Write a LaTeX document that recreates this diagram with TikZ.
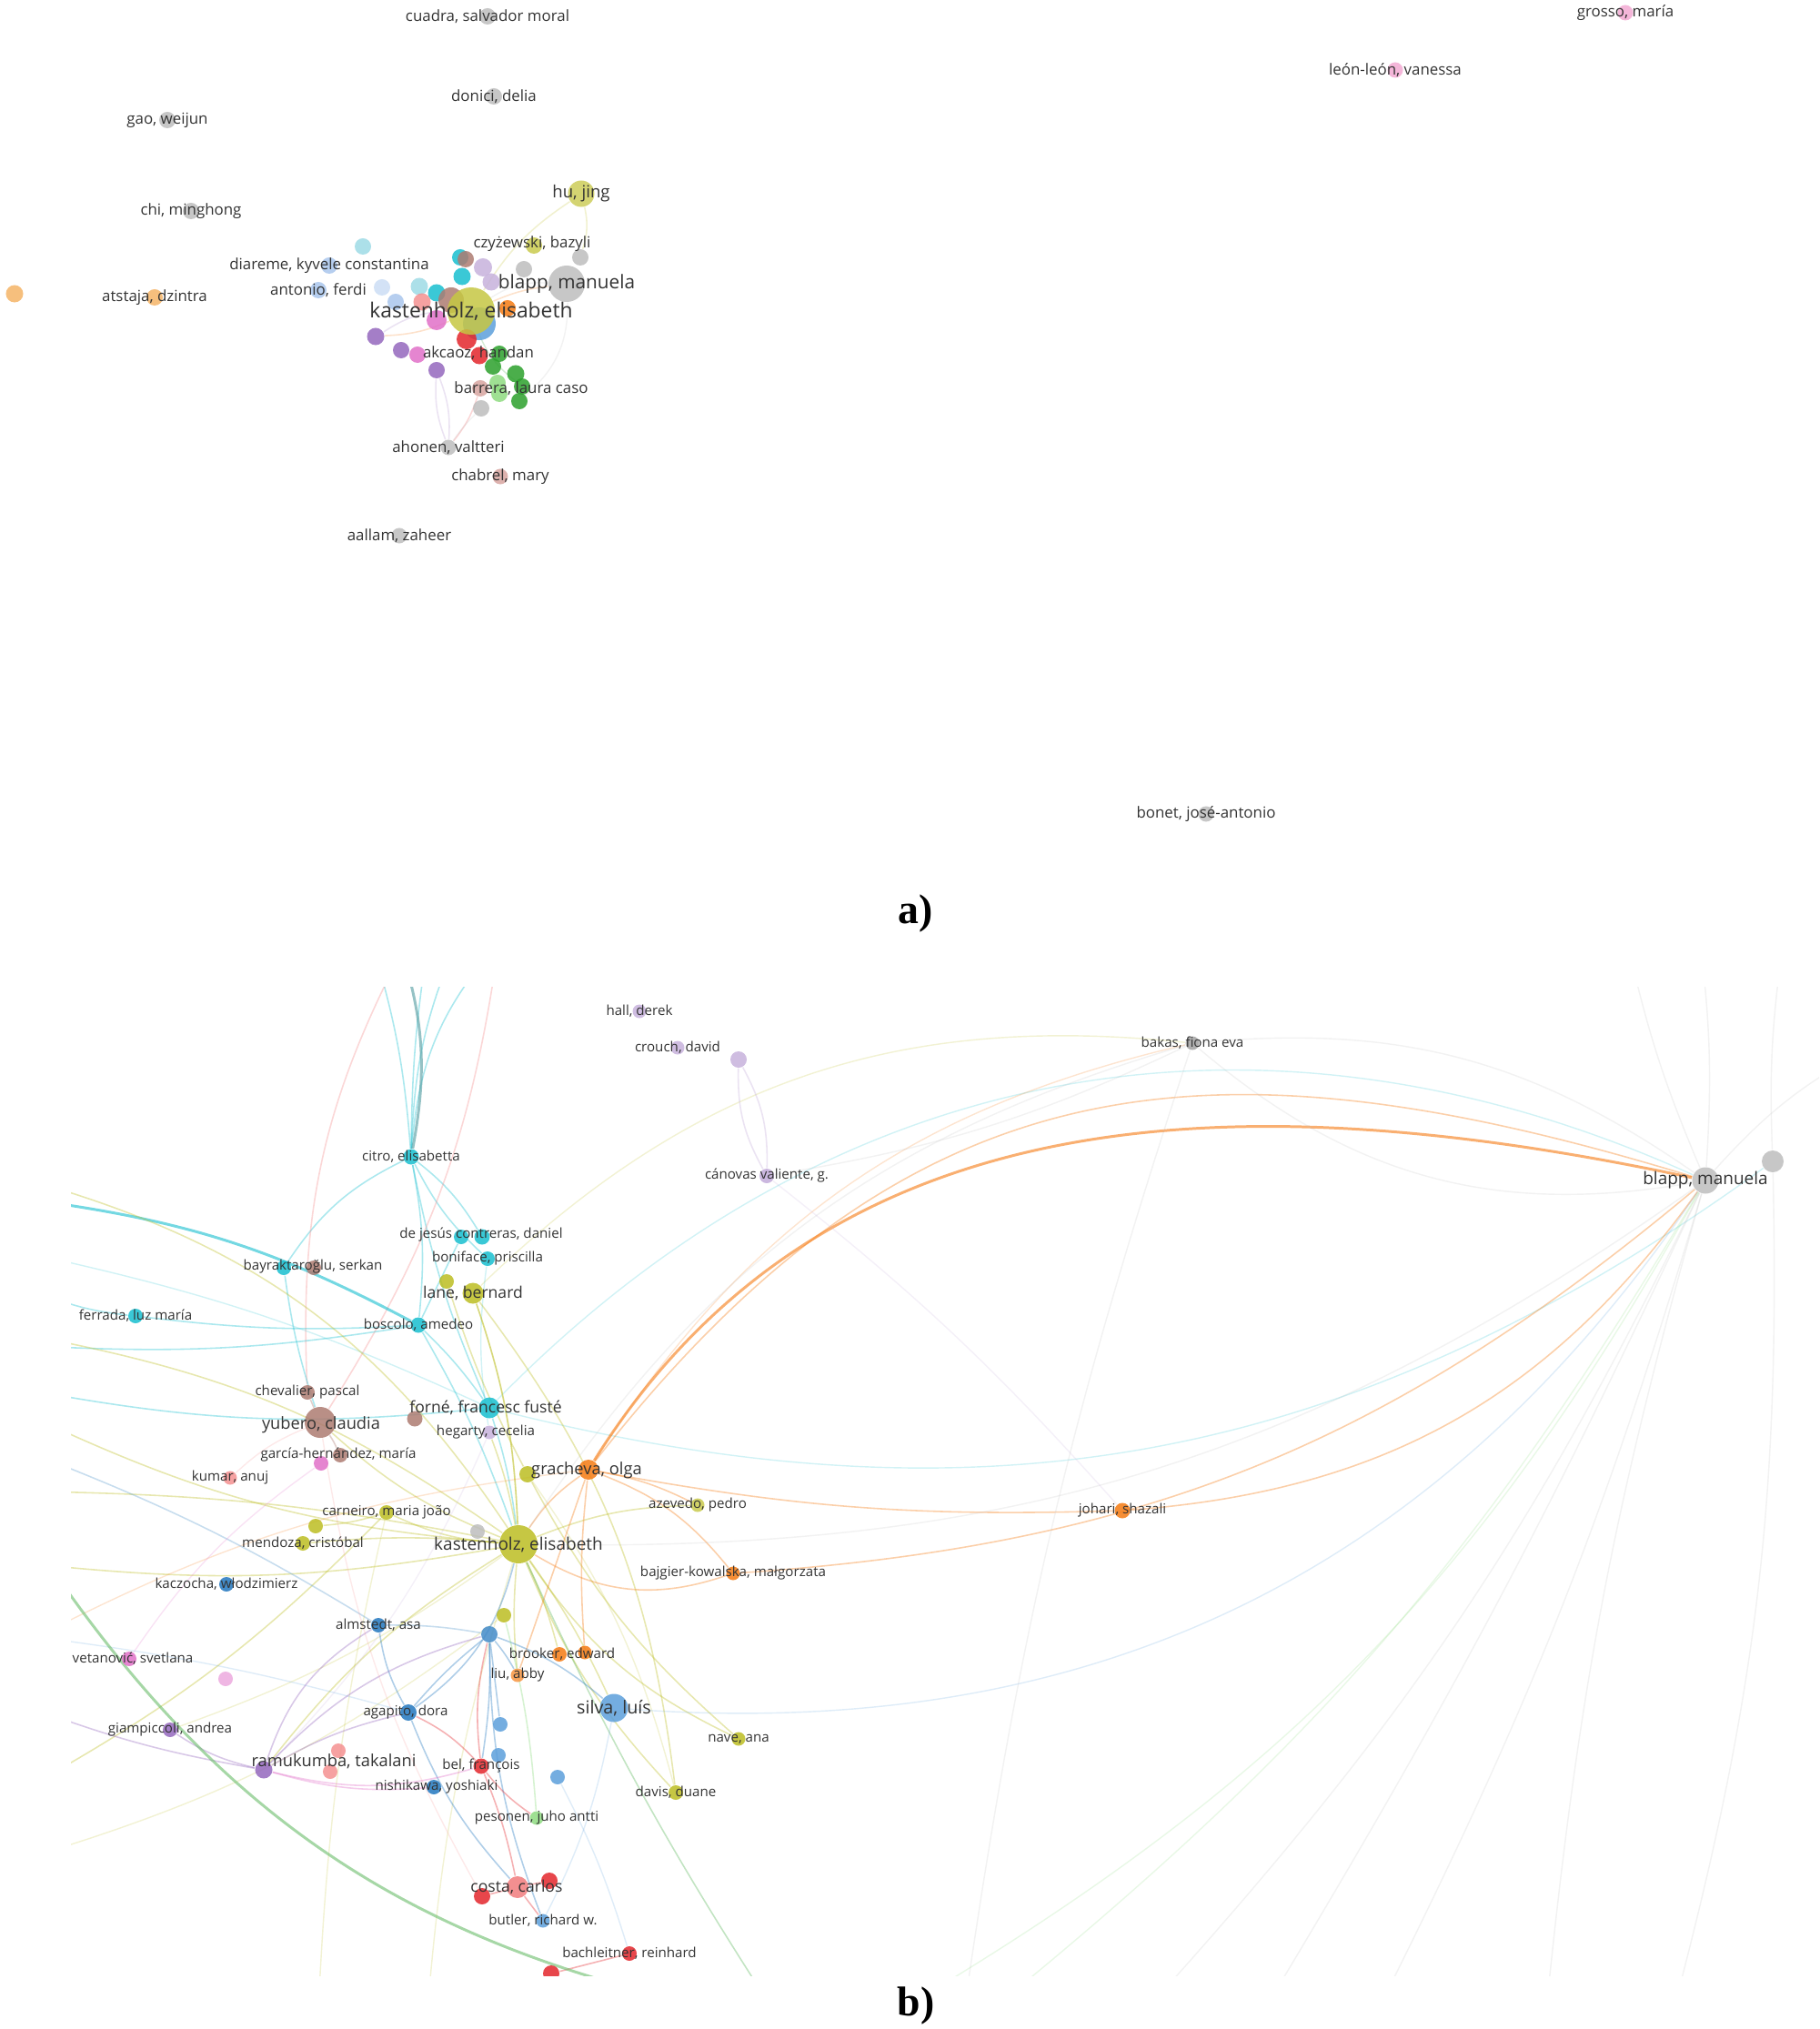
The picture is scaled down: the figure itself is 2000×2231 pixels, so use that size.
\documentclass[tikz,border=0pt]{standalone}
\usepackage{fontspec}
\setmainfont{Open Sans}
\newfontfamily\capfont{Liberation Serif}
\usepackage{tikz}
\usetikzlibrary{positioning,backgrounds}
\definecolor{grayCol}{HTML}{BDBDBD}
\definecolor{redCol}{HTML}{E3262B}
\definecolor{greenCol}{HTML}{2CA02C}
\definecolor{blueCol}{HTML}{2277BE}
\definecolor{ltBlueCol}{HTML}{5C9FDB}
\definecolor{oliveCol}{HTML}{BCBD22}
\definecolor{purpleCol}{HTML}{9467BD}
\definecolor{cyanCol}{HTML}{17BECF}
\definecolor{tealCol}{HTML}{4F9A9F}
\definecolor{orangeCol}{HTML}{F57A12}
\definecolor{brownCol}{HTML}{AD7B71}
\definecolor{pinkCol}{HTML}{E070C8}
\definecolor{paleBlueCol}{HTML}{A9C6EC}
\definecolor{paleGreenCol}{HTML}{8EDB80}
\definecolor{salmonCol}{HTML}{F49090}
\definecolor{lavCol}{HTML}{C7B2DC}
\definecolor{paleCyanCol}{HTML}{9EDAE5}
\definecolor{paleOrangeCol}{HTML}{F5B466}
\definecolor{palePinkCol}{HTML}{F2A9D2}
\definecolor{roseCol}{HTML}{D7A4A0}
\definecolor{txtCol}{HTML}{333333}
\tikzset{
  au/.style n args={2}{circle, fill=#1, fill opacity=0.85, draw=none, inner sep=0pt,
        minimum size=#2},
  nm/.style={font=\fontsize{#1}{#1}\selectfont, text=txtCol, inner sep=0pt},
  lk/.style={draw=#1, line width=0.45pt, draw opacity=0.36},
  lkf/.style={draw=#1, line width=0.4pt, draw opacity=0.2},
  lkb/.style={draw=#1, line width=0.85pt, draw opacity=0.6},
  captxt/.style={font=\capfont\bfseries\fontsize{13}{13}\selectfont, inner sep=0pt},
}
\begin{document}
\begin{tikzpicture}[x=0.01cm, y=-0.01cm]
  \useasboundingbox (0,0) rectangle (2000,2231);
  % ---------------- a) ----------------
  \node[au={grayCol}{1.8mm}] (cuadra) at (536,18) {};
  \node[au={grayCol}{1.8mm}] (donici) at (543,106) {};
  \node[au={grayCol}{1.8mm}] (gao) at (184,132) {};
  \node[au={grayCol}{1.8mm}] (chi) at (210,232) {};
  \node[au={oliveCol!75}{2.9mm}] (hujing) at (639,213) {};
  \node[au={oliveCol!80}{1.8mm}] (czy) at (587,270) {};
  \node[au={grayCol}{1.8mm}] (grayC) at (638,283) {};
  \node[au={paleCyanCol}{1.8mm}] (pcyA) at (399,271) {};
  \node[au={paleBlueCol}{1.8mm}] (diareme) at (362,292) {};
  \node[au={paleBlueCol}{1.8mm}] (antonio) at (350,319) {};
  \node[au={paleBlueCol!60}{1.8mm}] (pblA) at (420,316) {};
  \node[au={paleBlueCol}{1.8mm}] (pblB) at (435,332) {};
  \node[au={paleCyanCol}{1.9mm}] (pcyB) at (461,315) {};
  \node[au={paleOrangeCol}{1.9mm}] (orangeL) at (16,323) {};
  \node[au={paleOrangeCol}{1.8mm}] (atstaja) at (170,327) {};
  \node[au={grayCol}{1.8mm}] (grayD) at (576,296) {};
  \node[au={grayCol}{4.0mm}] (blappA) at (623,312) {};
  \node[au={cyanCol}{1.8mm}] (cyA) at (506,283) {};
  \node[au={lavCol}{2.0mm}] (lavA) at (531,294) {};
  \node[au={lavCol}{1.9mm}] (lavB) at (540,310) {};
  \node[au={brownCol}{1.8mm}] (brA) at (512,285) {};
  \node[au={cyanCol}{1.9mm}] (cyB) at (508,304) {};
  \node[au={cyanCol}{1.9mm}] (cyC) at (480,322) {};
  \node[au={salmonCol}{1.9mm}] (salA) at (464,332) {};
  \node[au={orangeCol}{1.8mm}] (orA) at (558,339) {};
  \node[au={brownCol}{2.8mm}] (brBig) at (496,330) {};
  \node[au={pinkCol}{2.2mm}] (pkA) at (480,352) {};
  \node[au={ltBlueCol}{3.6mm}] (blBig) at (527,356) {};
  \node[au={redCol}{2.2mm}] (rdA) at (513,373) {};
  \node[au={oliveCol!85}{5.2mm}] (kastA) at (518,342) {};
  \node[au={purpleCol}{1.9mm}] (puA) at (413,370) {};
  \node[au={purpleCol}{1.8mm}] (puB) at (441,385) {};
  \node[au={pinkCol}{1.8mm}] (pkB) at (459,390) {};
  \node[au={redCol}{1.9mm}] (rdB) at (527,391) {};
  \node[au={greenCol}{1.8mm}] (gnA) at (549,389) {};
  \node[au={greenCol}{1.8mm}] (gnB) at (542,403) {};
  \node[au={greenCol}{1.9mm}] (gnC) at (567,411) {};
  \node[au={paleGreenCol}{1.8mm}] (pgA) at (547,421) {};
  \node[au={greenCol}{1.8mm}] (gnD) at (574,425) {};
  \node[au={paleGreenCol}{1.8mm}] (pgB) at (549,433) {};
  \node[au={greenCol}{1.8mm}] (gnE) at (571,441) {};
  \node[au={purpleCol}{1.8mm}] (puC) at (480,407) {};
  \node[au={roseCol}{1.8mm}] (rose) at (528,427) {};
  \node[au={grayCol}{1.8mm}] (grayE) at (529,449) {};
  \node[au={grayCol}{1.7mm}] (ahonen) at (493,492) {};
  \node[au={roseCol}{1.7mm}] (chabrel) at (550,524) {};
  \node[au={grayCol}{1.7mm}] (aallam) at (439,589) {};
  \node[au={palePinkCol}{1.7mm}] (grosso) at (1787,14) {};
  \node[au={palePinkCol}{1.7mm}] (leon) at (1534,77) {};
  \node[au={grayCol}{1.7mm}] (bonet) at (1326,895) {};
  % labels
  \node[nm=4.8] (cuadraT) at (cuadra) {cuadra, salvador moral};
  \node[nm=4.8] (doniciT) at (donici) {donici, delia};
  \node[nm=4.8] (gaoT) at (gao) {gao, weijun};
  \node[nm=4.8] (chiT) at (chi) {chi, minghong};
  \node[nm=5.3] (hujingT) at (hujing) {hu, jing};
  \node[nm=4.8] (czyT) at (585,268) {czyżewski, bazyli};
  \node[nm=4.8] (diaremeT) at (diareme) {diareme, kyvele constantina};
  \node[nm=4.8] (antonioT) at (antonio) {antonio, ferdi};
  \node[nm=4.8] (atstajaT) at (atstaja) {atstaja, dzintra};
  \node[nm=5.9] (blappAT) at (blappA) {blapp, manuela};
  \node[nm=6.5] (kastAT) at (kastA) {kastenholz, elisabeth};
  \node[nm=4.8] (akcaozT) at (526,388) {akcaoz, handan};
  \node[nm=4.8] (barreraT) at (573,427) {barrera, laura caso};
  \node[nm=4.8] (ahonenT) at (ahonen) {ahonen, valtteri};
  \node[nm=4.8] (chabrelT) at (chabrel) {chabrel, mary};
  \node[nm=4.8] (aallamT) at (aallam) {aallam, zaheer};
  \node[nm=4.8] (grossoT) at (grosso) {grosso, maría};
  \node[nm=4.8] (leonT) at (leon) {león-león, vanessa};
  \node[nm=4.8] (bonetT) at (bonet) {bonet, josé-antonio};
  \node[captxt] (capA) at (1007,1004) {a)};
  % links a)
  \begin{scope}[on background layer]
    \draw[lk=oliveCol!60] (hujing) to[bend right=12] (kastA);
    \draw[lk=oliveCol!60] (hujing) to[bend left=15] (grayC);
    \draw[lk=lavCol] (puC) to[bend right=12] (ahonen);
    \draw[lk=lavCol] (puC) to[bend left=12] (ahonen);
    \draw[lk=salmonCol] (ahonen) to[bend right=10] (rose);
    \draw[lkf=grayCol] (ahonen) to[bend left=5] (grayE);
    \draw[lk=orangeCol!60] (puA) to[bend right=10] (kastA);
    \draw[lk=lavCol] (puA) to[bend left=15] (kastA);
    \draw[lk=orangeCol!60] (kastA) to[bend left=8] (blappA);
    \draw[lkf=grayCol] (kastA) to[bend left=18] (blappA);
    \draw[lkf=greenCol] (kastA) to[bend right=15] (gnD);
    \draw[lkf=grayCol] (blappA) to[bend left=25] (gnE);
    \draw[lkf=paleBlueCol] (kastA) to[bend right=8] (orA);
  \end{scope}
  % ---------------- b) ----------------
  \begin{scope}
    \clip (78,1085) rectangle (2000,2172);
    \node[au={lavCol}{1.5mm}] (hall) at (703,1112) {};
    \node[au={lavCol}{1.5mm}] (crouch) at (745,1152) {};
    \node[au={lavCol}{1.8mm}] (lavC) at (812,1165) {};
    \node[au={lavCol!90!purpleCol}{1.6mm}] (canovas) at (843,1293) {};
    \node[au={grayCol!85!black}{1.5mm}] (bakas) at (1311,1147) {};
    \node[au={grayCol}{2.9mm}] (blappB) at (1875,1298) {};
    \node[au={grayCol}{2.4mm}] (grayR) at (1949,1277) {};
    \node[au={orangeCol}{1.7mm}] (johari) at (1234,1661) {};
    \node[au={cyanCol}{1.7mm}] (citro) at (452,1272) {};
    \node[au={cyanCol}{1.6mm}] (dejA) at (507,1360) {};
    \node[au={cyanCol}{1.7mm}] (dejB) at (530,1360) {};
    \node[au={cyanCol}{1.6mm}] (boniface) at (536,1384) {};
    \node[au={cyanCol}{1.6mm}] (bayrC) at (312,1394) {};
    \node[au={brownCol}{1.6mm}] (bayrB) at (345,1394) {};
    \node[au={oliveCol}{1.6mm}] (laneY) at (491,1409) {};
    \node[au={oliveCol}{2.3mm}] (lane) at (520,1422) {};
    \node[au={cyanCol}{1.6mm}] (ferrada) at (149,1447) {};
    \node[au={cyanCol}{1.7mm}] (boscolo) at (460,1457) {};
    \node[au={brownCol}{1.6mm}] (chevalier) at (338,1531) {};
    \node[au={brownCol}{3.4mm}] (yubero) at (352,1564) {};
    \node[au={brownCol}{1.7mm}] (brownF) at (456,1560) {};
    \node[au={cyanCol}{2.3mm}] (forne) at (538,1548) {};
    \node[au={lavCol}{1.5mm}] (hegarty) at (538,1575) {};
    \node[au={pinkCol}{1.6mm}] (garciaP) at (353,1609) {};
    \node[au={brownCol}{1.6mm}] (garciaB) at (374,1600) {};
    \node[au={salmonCol}{1.5mm}] (kumar) at (253,1625) {};
    \node[au={oliveCol}{1.8mm}] (grachY) at (580,1621) {};
    \node[au={orangeCol}{2.2mm}] (gracheva) at (647,1616) {};
    \node[au={oliveCol!80}{1.5mm}] (azevedo) at (767,1655) {};
    \node[au={oliveCol}{1.6mm}] (carneiro) at (425,1663) {};
    \node[au={oliveCol}{1.6mm}] (mendY) at (347,1678) {};
    \node[au={oliveCol}{1.6mm}] (mendoza) at (333,1697) {};
    \node[au={grayCol}{1.6mm}] (grayK) at (525,1684) {};
    \node[au={oliveCol}{4.2mm}] (kb) at (570,1698) {};
    \node[au={orangeCol}{1.5mm}] (bajgier) at (806,1730) {};
    \node[au={blueCol}{1.6mm}] (kaczocha) at (249,1742) {};
    \node[au={blueCol}{1.6mm}] (almstedt) at (416,1787) {};
    \node[au={oliveCol}{1.6mm}] (hubY) at (554,1776) {};
    \node[au={blueCol!85!white}{1.8mm}] (hubB) at (538,1797) {};
    \node[au={orangeCol}{1.6mm}] (brookerA) at (615,1819) {};
    \node[au={orangeCol}{1.5mm}] (brookerB) at (643,1817) {};
    \node[au={orangeCol!80}{1.5mm}] (liu) at (569,1842) {};
    \node[au={pinkCol}{1.6mm}] (vetanovic) at (142,1824) {};
    \node[au={pinkCol!60}{1.6mm}] (pinkP) at (248,1846) {};
    \node[au={ltBlueCol}{3.1mm}] (silva) at (675,1878) {};
    \node[au={ltBlueCol}{1.6mm}] (blueS1) at (550,1896) {};
    \node[au={blueCol}{1.8mm}] (agapito) at (449,1883) {};
    \node[au={purpleCol}{1.6mm}] (giampiccoli) at (187,1902) {};
    \node[au={oliveCol}{1.5mm}] (nave) at (812,1912) {};
    \node[au={purpleCol}{1.9mm}] (ramukumba) at (290,1946) {};
    \node[au={salmonCol}{1.6mm}] (salC) at (372,1925) {};
    \node[au={salmonCol}{1.6mm}] (salD) at (363,1948) {};
    \node[au={ltBlueCol}{1.6mm}] (blueS2) at (548,1930) {};
    \node[au={redCol}{1.7mm}] (bel) at (529,1942) {};
    \node[au={ltBlueCol}{1.6mm}] (blueS3) at (613,1954) {};
    \node[au={blueCol}{1.6mm}] (nishikawa) at (477,1965) {};
    \node[au={oliveCol}{1.6mm}] (davis) at (743,1971) {};
    \node[au={paleGreenCol}{1.5mm}] (pesonen) at (590,1999) {};
    \node[au={salmonCol!80!redCol}{2.4mm}] (costa) at (569,2075) {};
    \node[au={redCol}{1.8mm}] (costaR) at (604,2068) {};
    \node[au={redCol}{1.8mm}] (costaL) at (530,2085) {};
    \node[au={ltBlueCol}{1.5mm}] (butler) at (597,2112) {};
    \node[au={redCol}{1.6mm}] (bachleitner) at (692,2148) {};
    \node[au={redCol}{1.8mm}] (redBot) at (606,2170) {};
    % labels
    \node[nm=4.3] (hallT) at (hall) {hall, derek};
    \node[nm=4.3] (crouchT) at (crouch) {crouch, david};
    \node[nm=4.3] (canovasT) at (canovas) {cánovas valiente, g.};
    \node[nm=4.3] (bakasT) at (bakas) {bakas, fiona eva};
    \node[nm=5.4] (blappBT) at (blappB) {blapp, manuela};
    \node[nm=4.3] (johariT) at (johari) {johari, shazali};
    \node[nm=4.3] (citroT) at (citro) {citro, elisabetta};
    \node[nm=4.3] (dejT) at (529,1358) {de jesús contreras, daniel};
    \node[nm=4.3] (bonifaceT) at (boniface) {boniface, priscilla};
    \node[nm=4.3] (bayrT) at (344,1393) {bayraktaroğlu, serkan};
    \node[nm=5.0] (laneT) at (lane) {lane, bernard};
    \node[nm=4.3] (ferradaT) at (ferrada) {ferrada, luz maría};
    \node[nm=4.3] (boscoloT) at (boscolo) {boscolo, amedeo};
    \node[nm=4.3] (chevalierT) at (chevalier) {chevalier, pascal};
    \node[nm=5.2] (yuberoT) at (353,1567) {yubero, claudia};
    \node[nm=5.0] (forneT) at (534,1548) {forné, francesc fusté};
    \node[nm=4.3] (hegartyT) at (534,1575) {hegarty, cecelia};
    \node[nm=4.3] (garciaT) at (372,1600) {garcía-hernández, maría};
    \node[nm=4.3] (kumarT) at (kumar) {kumar, anuj};
    \node[nm=5.2] (grachevaT) at (645,1617) {gracheva, olga};
    \node[nm=4.3] (azevedoT) at (azevedo) {azevedo, pedro};
    \node[nm=4.3] (carneiroT) at (carneiro) {carneiro, maria joão};
    \node[nm=4.3] (mendozaT) at (mendoza) {mendoza, cristóbal};
    \node[nm=5.4] (kbT) at (kb) {kastenholz, elisabeth};
    \node[nm=4.3] (bajgierT) at (bajgier) {bajgier-kowalska, małgorzata};
    \node[nm=4.3] (kaczochaT) at (kaczocha) {kaczocha, włodzimierz};
    \node[nm=4.3] (almstedtT) at (almstedt) {almstedt, asa};
    \node[nm=4.3] (brookerT) at (618,1819) {brooker, edward};
    \node[nm=4.3] (liuT) at (liu) {liu, abby};
    \node[nm=4.3, anchor=west] (vetanovicT) at (79,1824) {vetanović, svetlana};
    \node[nm=5.6] (silvaT) at (silva) {silva, luís};
    \node[nm=4.3] (agapitoT) at (446,1883) {agapito, dora};
    \node[nm=4.3] (giampiccoliT) at (giampiccoli) {giampiccoli, andrea};
    \node[nm=4.3] (naveT) at (nave) {nave, ana};
    \node[nm=5.2] (ramukumbaT) at (367,1937) {ramukumba, takalani};
    \node[nm=4.3] (belT) at (bel) {bel, françois};
    \node[nm=4.3] (nishikawaT) at (480,1965) {nishikawa, yoshiaki};
    \node[nm=4.3] (davisT) at (davis) {davis, duane};
    \node[nm=4.3] (pesonenT) at (pesonen) {pesonen, juho antti};
    \node[nm=5.0] (costaT) at (568,2075) {costa, carlos};
    \node[nm=4.3] (butlerT) at (butler) {butler, richard w.};
    \node[nm=4.3] (bachleitnerT) at (bachleitner) {bachleitner, reinhard};
  \end{scope}
  \node[captxt] (capB) at (1007,2205) {b)};
  % off-panel ends of links
  \coordinate (tA) at (410,1040);  \coordinate (tB) at (470,1040);
  \coordinate (tC) at (500,1040);  \coordinate (tD) at (545,1040);
  \coordinate (tE) at (440,1040);  \coordinate (tF) at (445,1040);
  \coordinate (tG) at (548,1040);  \coordinate (tH) at (1870,1040);
  \coordinate (tI) at (1960,1040); \coordinate (tJ) at (1790,1040);
  \coordinate (rA) at (2060,1150);
  \coordinate (lC) at (40,1320);   \coordinate (lD) at (40,1300);
  \coordinate (lE) at (40,1480);   \coordinate (lF) at (40,1420);
  \coordinate (lG) at (40,1560);   \coordinate (lH) at (40,1640);
  \coordinate (lI) at (40,1720);   \coordinate (lJ) at (40,1470);
  \coordinate (lK) at (40,1600);   \coordinate (lL) at (40,1880);
  \coordinate (lM) at (40,1700);   \coordinate (lN) at (40,1960);
  \coordinate (lP) at (40,2040);   \coordinate (lQ) at (40,1530);
  \coordinate (lR) at (40,1380);   \coordinate (lS) at (40,1800);
  \coordinate (bB) at (850,2210);  \coordinate (bD) at (790,2210);
  \coordinate (bF) at (1060,2210); \coordinate (bG) at (990,2210);
  \coordinate (bH) at (1090,2210); \coordinate (bI) at (1515,2210);
  \coordinate (bJ) at (1700,2210); \coordinate (bK) at (1840,2210);
  \coordinate (bL) at (1260,2210); \coordinate (bM) at (1390,2210);
  \coordinate (bN) at (350,2210);  \coordinate (bO) at (470,2210);
  % links b)
  \begin{scope}[on background layer]
    \clip (78,1085) rectangle (2000,2172);
    % cyan
    \draw[lk=cyanCol] (citro) to[bend right=6] (tA);
    \draw[lk=cyanCol] (citro) to[bend left=4] (tB);
    \draw[lk=cyanCol] (citro) to[bend left=10] (tC);
    \draw[lk=cyanCol] (citro) to[bend left=18] (tD);
    \draw[lkb=tealCol] (citro) to[bend right=14] (tE);
    \draw[lk=cyanCol] (citro) to[bend left=8] (boscolo);
    \draw[lk=cyanCol] (citro) to[bend left=10] (dejB);
    \draw[lk=cyanCol] (citro) to[bend right=6] (forne);
    \draw[lk=cyanCol] (citro) to[bend right=10] (boniface);
    \draw[lk=cyanCol] (citro) to[bend right=15] (bayrC);
    \draw[lk=salmonCol] (tF) to[bend right=15] (chevalier);
    \draw[lk=salmonCol] (tG) to[bend left=12] (yubero);
    \draw[lk=cyanCol] (boscolo) to[bend left=5] (ferrada);
    \draw[lkb=cyanCol] (lC) to[bend left=10] (boscolo);
    \draw[lk=cyanCol] (lE) to[bend right=6] (boscolo);
    \draw[lk=cyanCol] (ferrada) to[bend left=8] (lF);
    \draw[lk=cyanCol] (boscolo) to[bend left=5] (forne);
    \draw[lk=cyanCol] (boscolo) to[bend left=5] (kb);
    \draw[lk=cyanCol] (boscolo) to (dejA);
    \draw[lk=cyanCol] (bayrC) to[bend right=5] (yubero);
    \draw[lk=cyanCol] (forne) to[bend left=5] (kb);
    \draw[lkf=cyanCol] (forne) to[bend left=35] (blappB);
    \draw[lkf=cyanCol] (forne) to[bend right=25] (grayR);
    \draw[lk=cyanCol] (lQ) to[bend right=8] (forne);
    \draw[lkf=cyanCol] (lR) to[bend left=6] (forne);
    \draw[lkf=cyanCol] (boniface) to[bend right=8] (hegarty);
    % olive
    \draw[lk=oliveCol] (lD) to[bend left=20] (kb);
    \draw[lk=oliveCol] (kb) to[bend right=8] (lane);
    \draw[lk=oliveCol] (kb) to[bend left=10] (carneiro);
    \draw[lk=oliveCol] (kb) to[bend right=5] (mendoza);
    \draw[lk=oliveCol] (kb) to[bend left=10] (azevedo);
    \draw[lk=oliveCol] (kb) to[bend right=15] (nave);
    \draw[lk=oliveCol] (kb) to[bend right=10] (davis);
    \draw[lk=oliveCol] (kb) to[bend left=5] (silva);
    \draw[lk=oliveCol] (kb) to[bend right=10] (ramukumba);
    \draw[lk=oliveCol] (kb) to[bend left=10] (yubero);
    \draw[lk=oliveCol] (kb) to[bend right=5] (hegarty);
    \draw[lk=oliveCol] (kb) to[bend left=10] (lG);
    \draw[lk=oliveCol] (kb) to[bend right=5] (lH);
    \draw[lk=oliveCol] (kb) to[bend left=8] (lI);
    \draw[lk=oliveCol] (kb) to[bend right=12] (lJ);
    \draw[lk=oliveCol] (kb) to[bend left=5] (brookerA);
    \draw[lk=oliveCol] (kb) to[bend right=5] (liu);
    \draw[lk=oliveCol] (lane) to[bend left=8] (kb);
    \draw[lk=oliveCol] (laneY) to[bend right=5] (grachY);
    \draw[lk=oliveCol] (carneiro) to[bend left=6] (mendY);
    \draw[lk=oliveCol] (lN) to[bend right=8] (carneiro);
    \draw[lk=oliveCol] (nave) to[bend left=10] (grachY);
    \draw[lk=oliveCol] (davis) to[bend right=15] (lane);
    \draw[lkf=oliveCol] (lane) to[bend left=25] (bakas);
    \draw[lkf=oliveCol] (lP) to[bend right=10] (hubY);
    \draw[lkf=oliveCol] (kb) to[bend right=6] (bO);
    \draw[lkf=oliveCol] (carneiro) to[bend right=5] (bN);
    \draw[lkf=oliveCol] (kb) to[bend left=8] (giampiccoli);
    \draw[lkf=oliveCol] (grachY) to[bend left=10] (davis);
    \draw[lk=greenCol!80] (kb) to[bend right=4] (bB);
    % orange
    \draw[lk=orangeCol] (kb) to[bend left=10] (gracheva);
    \draw[lk=orangeCol] (bajgier) to[bend left=25] (kb);
    \draw[lk=orangeCol] (gracheva) to[bend left=15] (bajgier);
    \draw[lk=orangeCol] (gracheva) to[bend left=8] (azevedo);
    \draw[lk=orangeCol] (gracheva) to[bend right=5] (brookerB);
    \draw[lk=orangeCol] (gracheva) to (liu);
    \draw[lk=orangeCol] (gracheva) to[bend right=6] (johari);
    \draw[lkb=orangeCol] (gracheva) to[out=58, in=168] (blappB);
    \draw[lk=orangeCol] (gracheva) to[out=52, in=163, looseness=1.15] (blappB);
    \draw[lk=orangeCol] (johari) to[bend right=25] (blappB);
    \draw[lk=orangeCol] (bajgier) to[bend right=18] (blappB);
    \draw[lkf=orangeCol] (gracheva) to[bend left=22] (bakas);
    \draw[lkf=orangeCol] (gracheva) to[bend right=10] (lS);
    % grey
    \draw[lkf=grayCol] (bakas) to[bend left=20] (blappB);
    \draw[lkf=grayCol] (bakas) to[bend right=25] (blappB);
    \draw[lkf=grayCol] (bakas) to[bend right=5] (bF);
    \draw[lkf=grayCol] (blappB) to[bend left=18] (kb);
    \draw[lkf=grayCol] (blappB) to[bend left=5] (bI);
    \draw[lkf=grayCol] (blappB) to[bend right=5] (bJ);
    \draw[lkf=grayCol] (blappB) to[bend left=8] (bL);
    \draw[lkf=grayCol] (blappB) to[bend left=3] (bM);
    \draw[lkf=grayCol] (grayR) to[bend left=8] (bK);
    \draw[lkf=grayCol] (blappB) to[bend right=5] (tH);
    \draw[lkf=grayCol] (grayR) to[bend left=5] (tI);
    \draw[lkf=grayCol] (blappB) to[bend left=10] (rA);
    \draw[lkf=grayCol] (blappB) to[bend left=5] (tJ);
    \draw[lkf=grayCol] (bakas) to[bend right=20] (kb);
    \draw[lkf=grayCol] (canovas) to[bend right=8] (bakas);
    \draw[lkf=paleGreenCol] (blappB) to[bend left=15] (bG);
    \draw[lkf=paleGreenCol] (blappB) to[bend left=10] (bH);
    % lilac
    \draw[lk=lavCol] (lavC) to[bend left=15] (canovas);
    \draw[lk=lavCol] (lavC) to[bend right=15] (canovas);
    \draw[lkf=lavCol] (canovas) to[bend left=5] (johari);
    \draw[lkf=lavCol] (hegarty) to[bend left=10] (ramukumba);
    % blue
    \draw[lkf=ltBlueCol] (silva) to[bend right=30] (blappB);
    \draw[lk=blueCol!70] (lK) to[bend left=5] (almstedt);
    \draw[lk=blueCol!70] (almstedt) to[bend left=5] (hubB);
    \draw[lk=blueCol] (hubB) to[bend right=5] (agapito);
    \draw[lk=blueCol] (hubB) to[bend left=5] (bel);
    \draw[lk=blueCol] (hubB) to[bend left=10] (silva);
    \draw[lk=blueCol] (hubB) to (blueS1);
    \draw[lk=blueCol] (hubB) to[bend right=10] (butler);
    \draw[lk=blueCol] (hubB) to[bend left=5] (liu);
    \draw[lk=blueCol] (agapito) to[bend left=10] (almstedt);
    \draw[lk=blueCol] (agapito) to[bend right=10] (costa);
    \draw[lk=blueCol] (agapito) to[bend right=20] (kb);
    \draw[lkf=ltBlueCol] (silva) to[bend left=8] (butler);
    \draw[lkf=ltBlueCol] (blueS3) to[bend left=5] (bachleitner);
    \draw[lkf=ltBlueCol] (lS) to[bend left=4] (agapito);
    % purple / pink / red
    \draw[lk=purpleCol] (ramukumba) to[bend left=10] (giampiccoli);
    \draw[lk=purpleCol] (ramukumba) to[bend left=15] (hubB);
    \draw[lk=purpleCol] (ramukumba) to[bend left=8] (agapito);
    \draw[lk=purpleCol] (ramukumba) to[bend left=20] (almstedt);
    \draw[lk=purpleCol] (ramukumba) to[bend left=5] (lL);
    \draw[lk=pinkCol] (ramukumba) to[bend right=10] (nishikawa);
    \draw[lk=pinkCol] (ramukumba) to[bend right=15] (bel);
    \draw[lkf=pinkCol] (vetanovic) to[bend left=10] (garciaP);
    \draw[lk=redCol] (bel) to[bend left=5] (costa);
    \draw[lk=redCol] (bel) to[bend right=8] (pesonen);
    \draw[lk=redCol] (bel) to[bend left=10] (hubB);
    \draw[lk=redCol] (bel) to[bend right=10] (agapito);
    \draw[lk=redCol] (costa) to (costaR);
    \draw[lk=redCol] (costa) to (butler);
    \draw[lk=redCol] (costaL) to (costa);
    \draw[lk=redCol] (bachleitner) to (redBot);
    \draw[lkf=salmonCol] (kumar) to[bend left=10] (yubero);
    \draw[lkf=salmonCol] (yubero) to[bend right=10] (costaL);
    \draw[lk=brownCol] (chevalier) to (yubero);
    \draw[lk=brownCol] (yubero) to[bend left=5] (garciaB);
    % green
    \draw[lkb=greenCol!70] (lM) to[bend right=22] (bD);
    \draw[lk=paleGreenCol] (pesonen) to[bend right=5] (hubY);
  \end{scope}
\end{tikzpicture}
\end{document}
